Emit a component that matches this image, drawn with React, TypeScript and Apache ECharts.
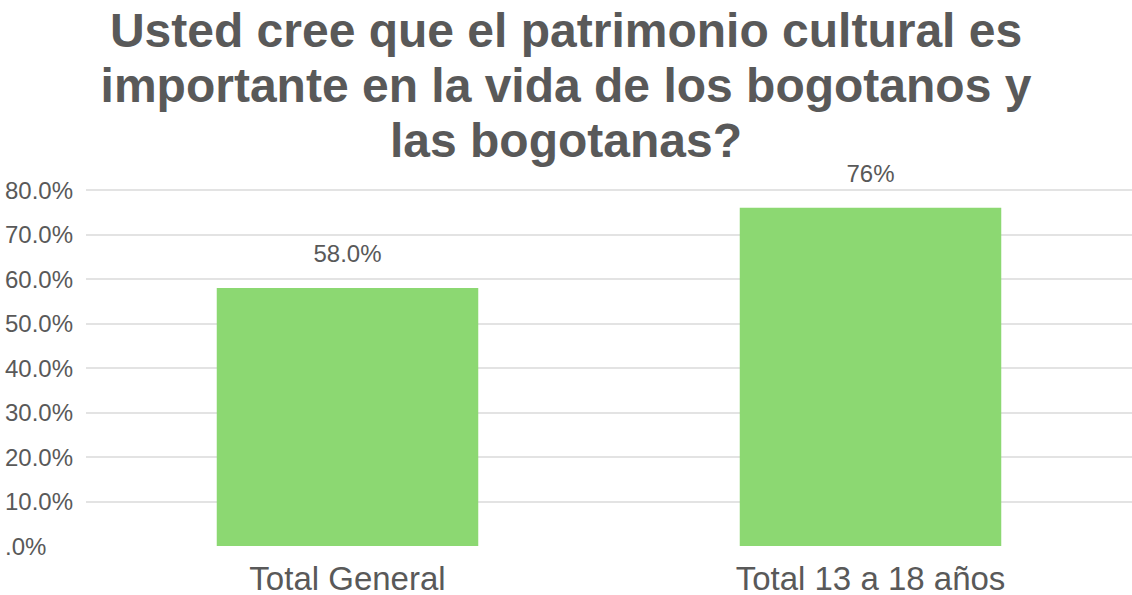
import React, { useEffect, useRef } from "react";
import * as echarts from "echarts";

const categories = ["Total General", "Total 13 a 18 años"];
const values = [58, 76];
const valueLabels = ["58.0%", "76%"];
const yTicks = { min: 0, max: 80, interval: 10 };
const titleText =
  "Usted cree que el patrimonio cultural es\nimportante en la vida de los bogotanos y\nlas bogotanas?";

const FONT = "Arial, 'Liberation Sans', sans-serif";
const GRAY = "#595959";

export default function App() {
  const ref = useRef<HTMLDivElement>(null);
  useEffect(() => {
    if (!ref.current) return;
    const chart = echarts.init(ref.current, undefined, { renderer: "svg" });
    chart.setOption({
      animation: false,
      backgroundColor: "#ffffff",
      title: {
        text: titleText,
        left: "center",
        top: -2,
        textStyle: {
          fontFamily: FONT,
          fontSize: 48,
          fontWeight: "bold",
          color: GRAY,
          lineHeight: 55,
        },
      },
      grid: { left: 86, right: 0, top: 190, bottom: 49, containLabel: false },
      xAxis: {
        type: "category",
        data: categories,
        axisLine: { show: false },
        axisTick: { show: false },
        axisLabel: {
          fontFamily: FONT,
          fontSize: 33,
          lineHeight: 28,
          color: GRAY,
          margin: 18,
        },
      },
      yAxis: {
        type: "value",
        min: yTicks.min,
        max: yTicks.max,
        interval: yTicks.interval,
        axisLine: { show: false },
        axisTick: { show: false },
        splitLine: {
          show: true,
          showMinLine: false,
          lineStyle: { color: "#e3e3e3", width: 2 },
        },
        axisLabel: {
          fontFamily: FONT,
          fontSize: 24,
          color: GRAY,
          align: "left",
          margin: 81,
          formatter: (v: number) => (v === 0 ? ".0%" : v.toFixed(1) + "%"),
        },
      },
      series: [
        {
          type: "bar",
          data: values,
          barWidth: "50%",
          itemStyle: { color: "#8cd872" },
          label: {
            show: true,
            position: "top",
            distance: 22,
            fontFamily: FONT,
            fontSize: 24,
            color: GRAY,
            formatter: (p: any) => valueLabels[p.dataIndex],
          },
        },
      ],
    });
    return () => chart.dispose();
  }, []);
  return (
    <div
      ref={ref}
      style={{ position: "fixed", left: 0, top: 0, width: 1132, height: 595 }}
    />
  );
}
